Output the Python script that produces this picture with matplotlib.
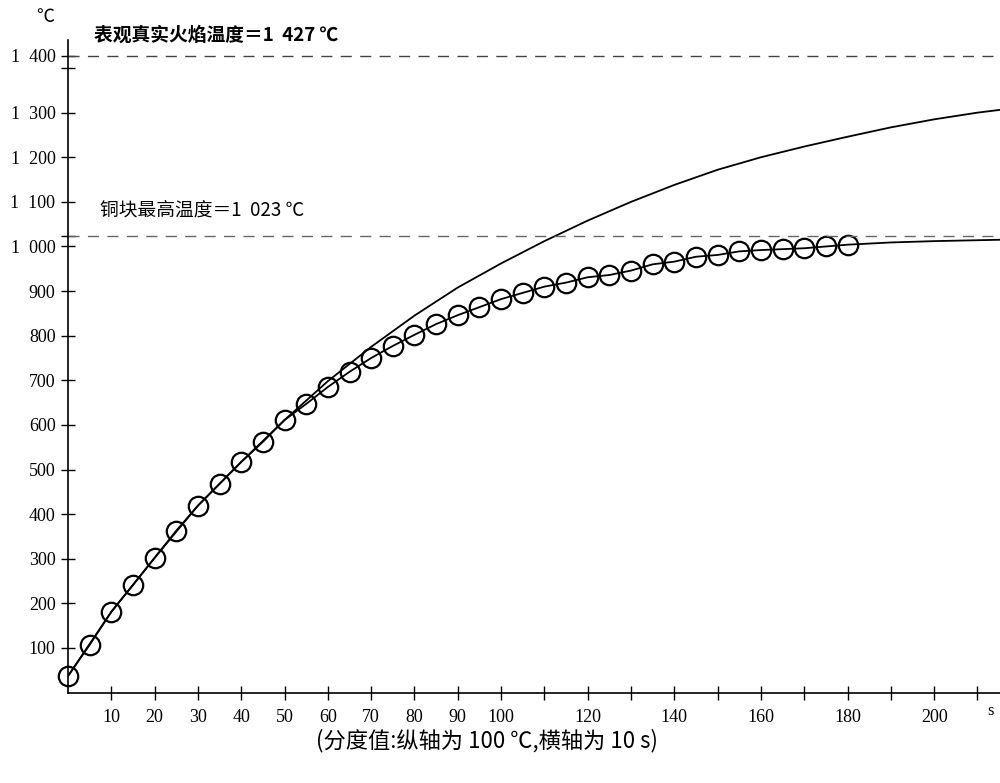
import numpy as np
import matplotlib
matplotlib.use("Agg")
import matplotlib.pyplot as plt

plt.rcParams['font.family'] = ['Liberation Serif', 'Noto Sans CJK SC', 'DejaVu Sans']

# measured copper block temperature (circles), every 5 s
t_meas = np.arange(0, 181, 5)
T_meas = [37, 107, 181, 241, 302, 363, 419, 468, 517, 562,
          611, 647, 685, 719, 750, 777, 802, 826, 846, 864,
          882, 896, 910, 919, 931, 936, 946, 960, 966, 977,
          981, 989, 992, 994, 996, 1000, 1004]

# fitted line continues beyond last measurement
t_tail = [190, 200, 210, 215]
T_tail = [1009, 1012, 1014, 1015]

# apparent flame curve (upper line)
t_flame = [0, 10, 20, 30, 40, 50, 60, 70, 80, 90, 100, 110, 120, 130,
           140, 150, 160, 170, 180, 190, 200, 210, 215]
T_flame = [37, 181, 302, 419, 517, 611, 698, 775, 845, 908, 962, 1012,
           1058, 1100, 1138, 1172, 1200, 1224, 1246, 1267, 1285, 1300, 1306]

T_flame_true = 1427
T_copper_max = 1023

y_ticks = [100, 200, 300, 400, 500, 600, 700, 800, 900, 1000,
           1100, 1200, 1300, 1400, 1023, 1427]
y_labels = ['100', '200', '300', '400', '500', '600', '700', '800', '900',
            '1  000', '1  100', '1  200', '1  300', '', '', '1  400']
x_ticks = list(range(10, 211, 10))
x_labels = [str(v) if (v <= 100 or v % 20 == 0) and v <= 200 else '' for v in x_ticks]

fig = plt.figure(figsize=(10, 7.83), dpi=100)
ax = fig.add_axes([0.068, 0.1155, 0.932, 0.8335])

ax.plot(t_flame, T_flame, color='black', lw=1.3)
ax.plot(list(t_meas) + t_tail, T_meas + T_tail, color='black', lw=1.3)
ax.plot(t_meas, T_meas, 'o', ms=14, mfc='none', mec='black', mew=1.6, clip_on=False)

ax.axhline(T_flame_true, color='#444444', lw=1.0, ls=(0, (8, 6)))
ax.axhline(T_copper_max, color='#666666', lw=1.0, ls=(0, (8, 6)))

ax.set_xlim(0, 215.2)
ax.set_ylim(0, 1463)

for s in ['top', 'right']:
    ax.spines[s].set_visible(False)
ax.spines['left'].set_linewidth(1.2)
ax.spines['bottom'].set_linewidth(1.2)

ax.set_xticks(x_ticks)
ax.set_xticklabels(x_labels, fontsize=13)
ax.set_yticks(y_ticks)
ax.set_yticklabels(y_labels, fontsize=13)
ax.tick_params(direction='inout', length=10, width=1.0, pad=4)
ax.tick_params(axis='x', pad=7)

cjk = ['Noto Sans CJK SC', 'DejaVu Sans']
ax.text(6, 1452, '表观真实火焰温度＝1  427 ℃', fontsize=13.5, family=cjk,
        fontweight='bold', va='bottom', ha='left')
ax.text(7.5, 1058, '铜块最高温度＝1  023 ℃', fontsize=13.5, family=cjk,
        va='bottom', ha='left')

fig.text(0.045, 0.978, '℃', fontsize=13, family=cjk, ha='center', va='center')
fig.text(0.99, 0.092, 's', fontsize=12, ha='center', va='center')
fig.text(0.487, 0.054, '(分度值:纵轴为 100 ℃,横轴为 10 s)', fontsize=16,
         family=cjk, ha='center', va='center')

fig.savefig('out.png', dpi=100)
